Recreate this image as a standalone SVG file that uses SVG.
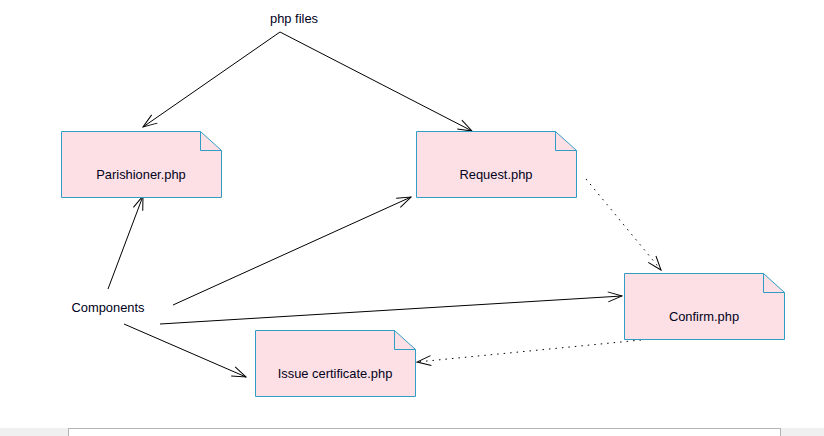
<svg xmlns="http://www.w3.org/2000/svg" width="824" height="436" viewBox="0 0 824 436">
<style>
.note{fill:#fde0e5;stroke:#2f9dc4;stroke-width:1}
.fold{fill:none;stroke:#2f9dc4;stroke-width:1}
.lbl{font-family:"Liberation Sans",Arial,sans-serif;font-size:12.9px;fill:#000020;text-anchor:middle}
.edge{fill:none;stroke:#000;stroke-width:1}
.dot{fill:none;stroke:#000;stroke-width:1;stroke-dasharray:1.5 5}
</style>
<defs>
<marker id="open" viewBox="0 0 16 12" refX="15" refY="6" markerWidth="16" markerHeight="12" markerUnits="userSpaceOnUse" orient="auto">
<path d="M1,1 L15,6 L1,11" fill="none" stroke="#000" stroke-width="1"/>
</marker>
</defs>
<rect x="0" y="0" width="824" height="436" fill="#fff"/>
<rect x="0" y="428" width="824" height="8" fill="#f0f0f0"/>
<rect x="68.5" y="428.5" width="712" height="10" fill="#fff" stroke="#b4b4b4"/>
<g id="connectors">
<path class="edge" d="M280,32 L143,127" marker-end="url(#open)"/>
<path class="edge" d="M280,32 L472,131" marker-end="url(#open)"/>
<path class="edge" d="M108,289 L143,196" marker-end="url(#open)"/>
<path class="edge" d="M173,305 L411,197" marker-end="url(#open)"/>
<path class="edge" d="M160,324 L622,296" marker-end="url(#open)"/>
<path class="edge" d="M124,324 L246,377" marker-end="url(#open)"/>
<path class="dot" d="M586,179 L661,270" marker-end="url(#open)"/>
<path class="dot" d="M641,340 L417,362" marker-end="url(#open)"/>
</g>
<g id="php-files"><text class="lbl" x="294" y="23">php files</text></g>
<g id="components"><text class="lbl" x="108" y="312">Components</text></g>
<g id="parishioner">
<path class="note" d="M61.5,131.5 H200.5 L221.5,150.5 V197.5 H61.5 Z"/>
<path class="fold" d="M200.5,131.5 V150.5 H221.5"/>
<text class="lbl" x="141" y="179">Parishioner.php</text>
</g>
<g id="request">
<path class="note" d="M416.5,131.5 H555.5 L576.5,150.5 V197.5 H416.5 Z"/>
<path class="fold" d="M555.5,131.5 V150.5 H576.5"/>
<text class="lbl" x="496" y="179">Request.php</text>
</g>
<g id="confirm">
<path class="note" d="M624.5,273.5 H763.5 L784.5,292.5 V339.5 H624.5 Z"/>
<path class="fold" d="M763.5,273.5 V292.5 H784.5"/>
<text class="lbl" x="704" y="321">Confirm.php</text>
</g>
<g id="issue-certificate">
<path class="note" d="M255.5,330.5 H394.5 L415.5,349.5 V396.5 H255.5 Z"/>
<path class="fold" d="M394.5,330.5 V349.5 H415.5"/>
<text class="lbl" x="335" y="378">Issue certificate.php</text>
</g>
</svg>
